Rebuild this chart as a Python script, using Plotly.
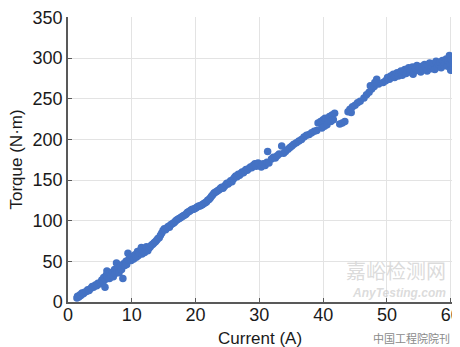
import plotly.graph_objects as go

# Current (A) and Torque (N·m)
current = [
    1.4, 1.5, 1.7, 1.9, 2.0, 2.2, 2.4, 2.6, 2.9, 3.1, 3.3, 3.6, 3.8, 4.0, 4.3, 4.5, 4.7, 4.9,
    5.1, 5.3, 5.5, 5.6, 5.8, 5.9, 6.0, 6.1, 6.2, 6.4, 6.5, 6.6, 6.8, 7.0, 7.1, 7.3, 7.4, 7.6,
    7.7, 7.9, 8.0, 8.2, 8.4, 8.6, 8.7, 8.9, 9.1, 9.2, 9.4, 9.5, 9.7, 9.9,
    10.1, 10.3, 10.5, 10.7, 10.9, 11.0, 11.2, 11.4, 11.5, 11.6, 11.8, 12.0, 12.2, 12.3, 12.5,
    12.7, 12.9, 13.1, 13.3, 13.5, 13.7, 13.9, 14.1, 14.3, 14.5, 14.7, 14.9, 15.1,
    15.3, 15.5, 15.7, 15.9, 16.1, 16.3, 16.5, 16.7, 16.9, 17.1, 17.3, 17.5, 17.7, 17.9, 18.1,
    18.3, 18.5, 18.7, 18.9, 19.1, 19.3, 19.5, 19.7, 19.9,
    20.1, 20.3, 20.5, 20.7, 20.9, 21.1, 21.3, 21.5, 21.7, 21.9, 22.1, 22.3, 22.5, 22.7, 22.9,
    23.1, 23.3, 23.5, 23.7, 23.9, 24.1, 24.3, 24.5, 24.7, 24.9,
    25.1, 25.3, 25.5, 25.7, 25.9, 26.1, 26.3, 26.5, 26.7, 26.9, 27.1, 27.3, 27.5, 27.7, 27.9,
    28.1, 28.3, 28.6, 28.8, 29.0, 29.3, 29.5, 29.8,
    30.3, 30.6, 30.9, 31.2, 31.3, 31.5,
    31.9, 32.2, 32.5, 32.8, 33.1, 33.5, 33.8, 34.1,
    34.5, 34.8, 35.1, 35.4, 35.8, 36.2, 36.6,
    37.0, 37.4, 37.8, 38.2, 38.6, 39.0,
    39.2, 39.6, 40.0, 40.3, 39.8, 40.2, 40.6,
    41.0, 41.4, 41.8, 41.2, 41.6,
    42.6, 43.0, 43.4,
    43.9, 44.2, 44.6, 45.0, 45.4, 45.8, 44.4,
    46.4, 46.8, 47.2, 47.6, 48.0, 48.4, 48.7, 47.4, 48.1,
    49.4, 49.8, 50.1, 50.4, 50.6, 50.8, 51.0, 51.2, 51.4, 51.6, 51.8, 52.0, 52.2, 52.4, 52.6,
    52.8, 53.0, 53.2, 53.4, 53.6, 53.8, 54.0, 54.1, 54.3, 54.5, 54.7, 54.9, 55.1, 55.3, 55.5,
    55.7, 55.9, 56.1, 56.3, 56.5, 56.7, 56.9, 57.1, 57.3, 57.5, 57.7, 57.9, 58.1, 58.3, 58.5,
    58.7, 58.9, 59.1, 59.3, 59.5, 59.6, 59.8, 59.9, 60.0, 60.1,
]
torque = [
    5, 7, 6, 9, 8, 11, 10, 12, 13, 15, 14, 17, 19, 18, 21, 20, 23, 22,
    24, 27, 25, 30, 18, 28, 33, 38, 31, 35, 29, 36, 33, 37, 31, 40, 35, 48,
    38, 42, 36, 44, 40, 29, 47, 45, 50, 46, 60, 52, 55, 51,
    56, 53, 58, 55, 62, 57, 60, 64, 67, 59, 62, 61, 65, 68, 63,
    66, 68, 70, 71, 73, 74, 76, 78, 79, 82, 85, 88, 90,
    89, 91, 93, 92, 95, 96, 97, 98, 100, 101, 102, 103, 104, 105, 106,
    107, 108, 110, 111, 112, 113, 114, 114, 115,
    116, 117, 118, 118, 119, 120, 121, 122, 123, 125, 126, 128, 130, 132, 134,
    135, 136, 137, 138, 140, 141, 140, 142, 144, 146,
    145, 147, 149, 148, 151, 153, 155, 154, 157, 156, 158, 160, 159, 161, 163,
    162, 164, 166, 165, 168, 170, 167, 171,
    166, 170, 168, 172, 185, 171,
    176, 178, 177, 180, 182, 192, 183, 185,
    188, 190, 192, 194, 196, 198, 200,
    203, 205, 206, 208, 210, 211,
    220, 222, 224, 226, 214, 216, 218,
    228, 230, 232, 222, 224,
    219, 220, 222,
    234, 237, 240, 242, 245, 247, 233,
    251, 255, 258, 262, 265, 274, 268, 266, 270,
    270, 272, 276, 274, 278, 277, 280, 276, 279, 282, 278, 281, 284, 279, 283,
    286, 281, 285, 288, 283, 286, 289, 280, 284, 287, 291, 285, 288, 283, 290,
    286, 292, 288, 284, 291, 294, 287, 290, 293, 286, 296, 289, 292, 295, 288,
    297, 291, 294, 299, 290, 296, 303, 293, 285, 298,
]

x_ticks = [0, 10, 20, 30, 40, 50, 60]
y_ticks = [0, 50, 100, 150, 200, 250, 300, 350]

FONT = "Liberation Sans, Arial, sans-serif"
AXIS_COLOR = "#595959"
GRID_COLOR = "#e3e3e3"
TEXT_COLOR = "#1a1a1a"

fig = go.Figure(
    go.Scatter(
        x=current,
        y=torque,
        mode="markers",
        marker=dict(size=7.5, color="#4472C4", line=dict(width=0)),
        showlegend=False,
        cliponaxis=False,
    )
)

# the page body adds an 8px offset, so the figure is sized to the visible area
fig.update_layout(
    width=452,
    height=339,
    margin=dict(l=60, r=8, t=9, b=45),
    paper_bgcolor="white",
    plot_bgcolor="white",
    font=dict(family=FONT, size=18, color=TEXT_COLOR),
)

axis_common = dict(
    showgrid=True,
    gridcolor=GRID_COLOR,
    gridwidth=1,
    zeroline=False,
    showline=True,
    linecolor=AXIS_COLOR,
    linewidth=1.5,
    ticks="inside",
    ticklen=4,
    tickcolor=AXIS_COLOR,
    tickfont=dict(size=18, color=TEXT_COLOR),
    ticklabeloverflow="allow",
    automargin=False,
)
fig.update_xaxes(range=[0, 60.2], tickvals=x_ticks, ticklabelstandoff=-4, **axis_common)
fig.update_yaxes(range=[0, 350.5], tickvals=y_ticks, **axis_common)

# axis titles
fig.add_annotation(
    xref="paper", yref="paper", x=0.5, y=0, yshift=-36,
    xanchor="center", yanchor="middle", text="Current (A)", showarrow=False,
    font=dict(family=FONT, size=17, color=TEXT_COLOR),
)
fig.add_annotation(
    xref="paper", yref="paper", x=0, y=0.5, xshift=-52,
    xanchor="center", yanchor="middle", text="Torque (N·m)", textangle=-90,
    showarrow=False, font=dict(family=FONT, size=17, color=TEXT_COLOR),
)

# faint watermark seen in the reference
fig.add_annotation(
    xref="paper", yref="paper", x=0.99, y=0, yshift=32,
    xanchor="right", yanchor="middle", text="嘉峪检测网", showarrow=False,
    font=dict(family="Noto Sans CJK SC", size=20, color="rgba(195,195,195,0.6)"),
)
fig.add_annotation(
    xref="paper", yref="paper", x=0.99, y=0, yshift=9,
    xanchor="right", yanchor="middle", text="<i><b>AnyTesting.com</b></i>",
    showarrow=False,
    font=dict(family=FONT, size=12, color="rgba(200,200,200,0.65)"),
)
fig.add_annotation(
    xref="paper", yref="paper", x=1.0, y=0, yshift=-36,
    xanchor="right", yanchor="middle", text="中国工程院院刊", showarrow=False,
    font=dict(family="Noto Sans CJK SC", size=11, color="#8a8a8a"),
)

fig.write_html("out.html")
